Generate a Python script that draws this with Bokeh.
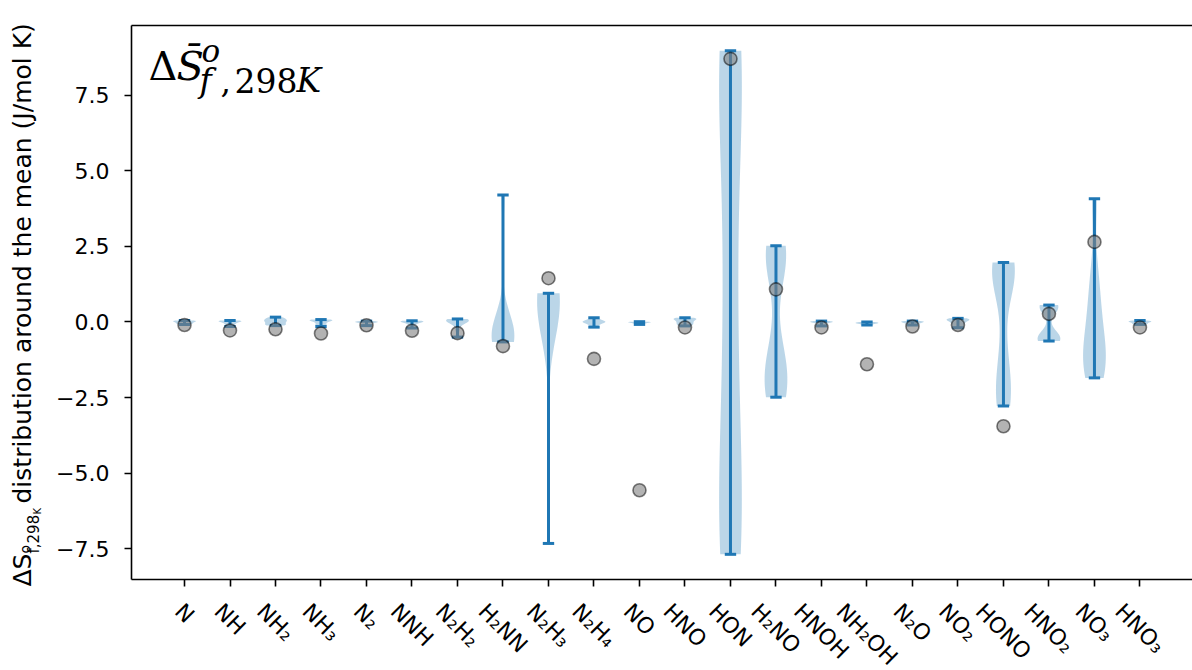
import math
import numpy as np
from bokeh.plotting import figure
from bokeh.models import Range1d, LinearAxis, FixedTicker, CustomJSTickFormatter, Label
from bokeh.embed import file_html
from bokeh.resources import INLINE

# ---------------------------------------------------------------- data
species = ["N", "NH", "NH₂", "NH₃", "N₂", "NNH", "N₂H₂", "H₂NN", "N₂H₃", "N₂H₄",
           "NO", "HNO", "HON", "H₂NO", "HNOH", "NH₂OH", "N₂O", "NO₂", "HONO",
           "HNO₂", "NO₃", "HNO₃"]

# deviations of each method's value from the species mean (J/mol K)
dev_N = [0.05, 0.04, 0.03, 0.01, 0.0, -0.02, -0.04, -0.06, -0.08]
dev_NH = [0.05, 0.04, 0.03, 0.02, 0.0, -0.03, -0.06, -0.1, -0.15]
dev_NH2 = [0.16, 0.12, 0.08, 0.05, 0.02, -0.02, -0.06, -0.1, -0.12]
dev_NH3 = [0.08, 0.07, 0.06, 0.05, 0.02, -0.02, -0.07, -0.11, -0.15]
dev_N2 = [0.03, 0.02, 0.01, 0.0, -0.01, -0.02, -0.04, -0.08, -0.12]
dev_NNH = [0.04, 0.03, 0.02, 0.01, 0.0, -0.03, -0.07, -0.12, -0.2]
dev_N2H2 = [0.1, 0.09, 0.07, 0.05, 0.03, 0.0, -0.08, -0.25, -0.5]
dev_H2NN = [4.2, -0.05, -0.25, -0.38, -0.47, -0.55, -0.6, -0.63, -0.66]
dev_N2H3 = [0.95, 0.92, 0.88, 0.82, 0.74, 0.62, 0.4, 0.05, -7.33]
dev_N2H4 = [0.14, 0.08, 0.04, 0.02, 0.0, -0.02, -0.05, -0.1, -0.17]
dev_NO = [0.01, 0.0, 0.0, -0.01, -0.02, -0.03, -0.04, -0.06, -0.08]
dev_HNO = [0.14, 0.12, 0.1, 0.07, 0.03, -0.01, -0.05, -0.09, -0.13]
dev_HON = [8.98, 8.8, 8.1, 4.2, 0.6, -2.6, -5.8, -7.2, -7.69]
dev_H2NO = [2.52, 2.4, 2.2, 1.7, -0.9, -1.5, -2.0, -2.3, -2.49]
dev_HNOH = [0.03, 0.02, 0.01, 0.0, -0.01, -0.03, -0.06, -0.1, -0.13]
dev_NH2OH = [0.0, -0.01, -0.02, -0.03, -0.04, -0.05, -0.06, -0.08, -0.1]
dev_N2O = [0.03, 0.02, 0.01, 0.0, -0.02, -0.03, -0.05, -0.08, -0.1]
dev_NO2 = [0.12, 0.1, 0.08, 0.06, 0.02, -0.03, -0.08, -0.14, -0.19]
dev_HONO = [1.97, 1.9, 1.8, 1.6, 1.2, -0.9, -2.1, -2.4, -2.78]
dev_HNO2 = [0.56, 0.54, 0.5, 0.42, -0.4, -0.52, -0.58, -0.61, -0.63]
dev_NO3 = [4.08, 1.6, 0.7, 0.0, -0.6, -1.05, -1.4, -1.6, -1.85]
dev_HNO3 = [0.05, 0.04, 0.02, 0.01, 0.0, -0.02, -0.04, -0.06, -0.08]

samples = [dev_N, dev_NH, dev_NH2, dev_NH3, dev_N2, dev_NNH, dev_N2H2, dev_H2NN,
           dev_N2H3, dev_N2H4, dev_NO, dev_HNO, dev_HON, dev_H2NO, dev_HNOH,
           dev_NH2OH, dev_N2O, dev_NO2, dev_HONO, dev_HNO2, dev_NO3, dev_HNO3]

# reference value of each species, relative to the same mean
reference_dev = [-0.1, -0.28, -0.24, -0.38, -0.11, -0.29, -0.37, -0.8, 1.45, -1.22,
                 -5.57, -0.18, 8.71, 1.08, -0.18, -1.4, -0.15, -0.1, -3.45, 0.27,
                 2.65, -0.18]

y_ticks = [-7.5, -5.0, -2.5, 0.0, 2.5, 5.0, 7.5]

# ---------------------------------------------------------------- style
C0 = "#1f77b4"
BW_FACTOR = 0.45      # kernel bandwidth, as a fraction of the sample std
HALF_WIDTH = 0.25     # widest point of a violin, in x units
CAP_HALF = 0.125      # half length of the min / max caps
TICK_FONT = "DejaVu Sans"
TICK_SIZE = 22        # px
BASELINE_FIX = 0.46   # em; lifts "alphabetic" label anchors onto the glyph baseline

W, H = 1192, 670
LEFT_PX, TOP_PX, BOTTOM_PX = 131, 25, 91   # margins around the data area

positions = list(range(len(species)))


def violin_outline(vals, pos):
    v = np.asarray(vals, dtype=float)
    grid = np.linspace(v.min(), v.max(), 100)
    bw = BW_FACTOR * v.std(ddof=1)
    dens = np.exp(-0.5 * ((grid[:, None] - v[None, :]) / bw) ** 2).sum(axis=1)
    w = HALF_WIDTH * dens / dens.max()
    xs = np.concatenate([pos - w, (pos + w)[::-1]])
    ys = np.concatenate([grid, grid[::-1]])
    return xs.tolist(), ys.tolist()


# data area limits (5 % margin on y, like an autoscaled axes)
all_vals = np.concatenate([np.asarray(s, float) for s in samples])
span = all_vals.max() - all_vals.min()
y_lo = all_vals.min() - 0.05 * span
y_hi = all_vals.max() + 0.05 * span
x_lo, x_hi = -1.165, 22.155

# the frame fills the canvas; axes sit at fixed locations around the data area
px_x = (W - LEFT_PX) / (x_hi - x_lo)
px_y = (H - TOP_PX - BOTTOM_PX) / (y_hi - y_lo)
p = figure(width=W, height=H, output_backend="svg", toolbar_location=None,
           x_range=Range1d(x_lo - LEFT_PX / px_x, x_hi),
           y_range=Range1d(y_lo - BOTTOM_PX / px_y, y_hi + TOP_PX / px_y),
           x_axis_location=None, y_axis_location=None,
           min_border=0, min_border_left=0, min_border_right=0,
           min_border_top=0, min_border_bottom=0)
p.outline_line_color = None
p.background_fill_color = "white"
p.border_fill_color = "white"
for g in p.grid:
    g.visible = False

yaxis = LinearAxis(fixed_location=x_lo, bounds=(y_lo, y_hi),
                   ticker=FixedTicker(ticks=y_ticks),
                   formatter=CustomJSTickFormatter(
                       code="return tick.toFixed(1).replace('-', '\u2212');"))
xaxis = LinearAxis(fixed_location=y_lo, bounds=(x_lo, x_hi),
                   ticker=FixedTicker(ticks=positions),
                   formatter=CustomJSTickFormatter(code="return '';"))
top = LinearAxis(fixed_location=y_hi, bounds=(x_lo, x_hi),
                 ticker=FixedTicker(ticks=[]),
                 formatter=CustomJSTickFormatter(code="return '';"))
for ax in (yaxis, xaxis, top):
    ax.axis_line_color = "black"
    ax.axis_line_width = 1.6
    ax.major_tick_line_color = "black"
    ax.major_tick_line_width = 1.6
    ax.major_tick_out = 7
    ax.major_tick_in = 0
    ax.minor_tick_out = 0
    ax.minor_tick_in = 0
    ax.major_label_text_font = TICK_FONT
    ax.major_label_text_font_size = f"{TICK_SIZE}px"
    ax.major_label_text_color = "black"
top.major_tick_out = 0
top.major_label_text_font_size = "0px"
yaxis.major_label_standoff = 15
p.add_layout(yaxis, "left")
p.add_layout(xaxis, "below")
p.add_layout(top, "above")

# violins
vxs, vys = [], []
for pos, vals in zip(positions, samples):
    xs, ys = violin_outline(vals, pos)
    vxs.append(xs)
    vys.append(ys)
p.patches(xs=vxs, ys=vys, fill_color=C0, fill_alpha=0.3, line_color=None)

# extrema bars and caps
mins = [min(s) for s in samples]
maxs = [max(s) for s in samples]
p.segment(x0=positions, y0=mins, x1=positions, y1=maxs, line_color=C0, line_width=3)
p.segment(x0=[x - CAP_HALF for x in positions], y0=mins,
          x1=[x + CAP_HALF for x in positions], y1=mins, line_color=C0, line_width=3)
p.segment(x0=[x - CAP_HALF for x in positions], y0=maxs,
          x1=[x + CAP_HALF for x in positions], y1=maxs, line_color=C0, line_width=3)

# reference values
p.scatter(x=positions, y=reference_dev, size=13, fill_color="grey", fill_alpha=0.6,
          line_color="black", line_alpha=0.5, line_width=1.6)

# rotated species labels under the axis, centred on their ticks
ADV = {"N": 0.748, "H": 0.752, "O": 0.787, "₂": 0.40, "₃": 0.40, "₄": 0.40}
line_h = 1.16 * TICK_SIZE
for pos, name in zip(positions, species):
    w = TICK_SIZE * sum(ADV[c] for c in name)
    drop = 19 + (w + line_h) / (2 * math.sqrt(2))
    p.add_layout(Label(x=pos, y=y_lo, y_offset=-drop, text=name, angle=-math.pi / 4,
                       text_align="center", text_baseline="middle",
                       text_font=TICK_FONT, text_font_size=f"{TICK_SIZE}px",
                       text_color="black"))


def corner_text(text, dx, dy, size, font, style="normal"):
    """Text starting dx px right of the data area's left edge, baseline dy px below its top."""
    p.add_layout(Label(x=x_lo, y=y_hi, x_offset=dx, y_offset=-(dy - BASELINE_FIX * size),
                       text=text, text_font=font, text_font_size=f"{size}px",
                       text_font_style=style, text_align="left",
                       text_baseline="alphabetic", text_color="black"))


# in-frame heading: ΔS̄°_{f,298K}
corner_text("Δ", 17, 59, 40, "DejaVu Serif")
corner_text("S\u0304", 45, 59, 40, "DejaVu Serif", "italic")
corner_text("o", 70, 40, 31, "DejaVu Serif", "italic")
corner_text("f", 68, 70, 33, "DejaVu Serif", "italic")
corner_text(",", 89, 70, 33, "DejaVu Serif")
corner_text("298", 103, 70, 33, "DejaVu Serif")
corner_text("K", 165, 70, 33, "DejaVu Serif", "italic")


def side_text(text, dx, up, size):
    """Vertical text, baseline dx px from the data area's left edge, starting up px above its bottom."""
    p.add_layout(Label(x=x_lo, y=y_lo, x_offset=dx - BASELINE_FIX * size, y_offset=up,
                       text=text, angle=math.pi / 2, text_font=TICK_FONT,
                       text_font_size=f"{size}px", text_align="left",
                       text_baseline="alphabetic", text_color="black"))


# y-axis title: ΔS°_{f,298_K} distribution around the mean (J/mol K)
side_text("ΔS", -98, -7, 25)
side_text("o", -100, 26, 14)
side_text("f,298", -91, 26, 15)
side_text("K", -89, 65, 10)
side_text("distribution around the mean (J/mol K)", -98, 76, 25)

open("out.html", "w").write(file_html(p, INLINE))
